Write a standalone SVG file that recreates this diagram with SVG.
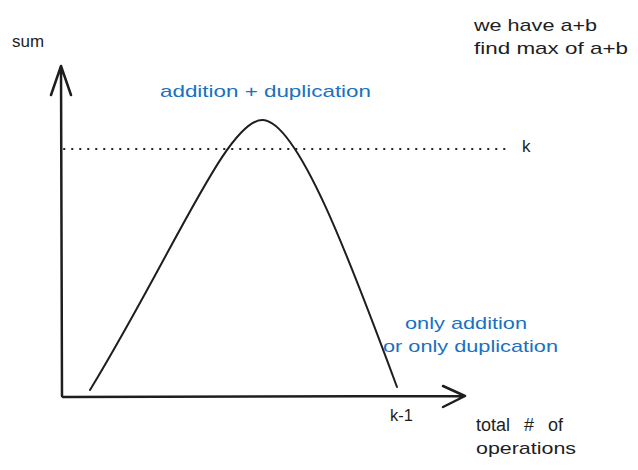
<svg xmlns="http://www.w3.org/2000/svg" width="638" height="470" viewBox="0 0 638 470">
<style>
.ax{fill:none;stroke:#1e1e1e;stroke-width:2.5;stroke-linecap:round;stroke-linejoin:round}
.cv{fill:none;stroke:#1e1e1e;stroke-width:2;stroke-linecap:round}
.dot{fill:none;stroke:#1e1e1e;stroke-width:2;stroke-linecap:round;stroke-dasharray:0.5 7.5}
.t{font-family:"Liberation Sans",Arial,sans-serif;font-size:17px;fill:#1e1e1e}
.b{fill:#1971c2}
</style>
<rect width="638" height="470" fill="#ffffff"/>
<g id="connectors">
<path id="y-axis" class="ax" d="M62,396 L61,66 M51,95 L61,66 L71,95"/>
<path id="x-axis" class="ax" d="M63,397 L465,396 M443,386 L465,396 L443,407"/>
<path id="k-line" class="dot" d="M64,149 L512,149"/>
<path id="curve" class="cv" d="M90,390 C175,250 228,118 263,120 C298,122 350,260 397,387"/>
</g>
<g id="axis-labels">
<text class="t" x="12" y="47" textLength="32" lengthAdjust="spacingAndGlyphs">sum</text>
<text class="t" x="522" y="152">k</text>
<text class="t" x="390" y="421" textLength="23" lengthAdjust="spacingAndGlyphs">k-1</text>
<text class="t" x="476" y="431" style="font-size:18px;word-spacing:9px">total # of</text>
<text class="t" x="476" y="454" textLength="100" lengthAdjust="spacingAndGlyphs">operations</text>
</g>
<g id="note">
<text class="t" x="474" y="31" textLength="123" lengthAdjust="spacingAndGlyphs">we have a+b</text>
<text class="t" x="474" y="54" textLength="154" lengthAdjust="spacingAndGlyphs">find max of a+b</text>
</g>
<g id="peak-label">
<text class="t b" x="160" y="97" textLength="211" lengthAdjust="spacingAndGlyphs">addition + duplication</text>
</g>
<g id="end-label">
<text class="t b" x="405" y="329" textLength="122" lengthAdjust="spacingAndGlyphs">only addition</text>
<text class="t b" x="383" y="352" textLength="175" lengthAdjust="spacingAndGlyphs">or only duplication</text>
</g>
</svg>
